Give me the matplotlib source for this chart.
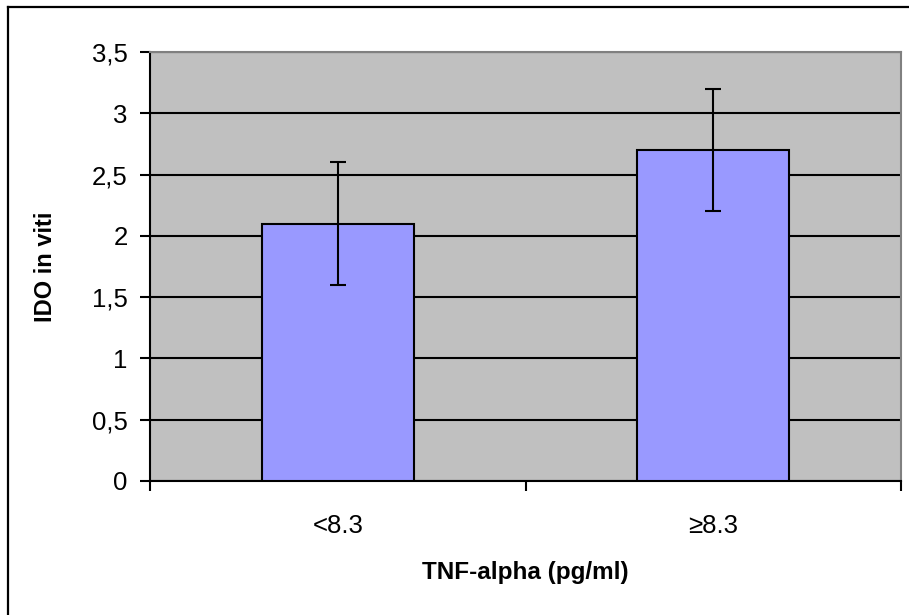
import matplotlib
matplotlib.use("Agg")
import matplotlib.pyplot as plt
from matplotlib.lines import Line2D
from matplotlib.ticker import FixedLocator, FuncFormatter

plt.rcParams['font.family'] = ['Liberation Sans', 'DejaVu Sans']

categories = ["<8.3", "\u22658.3"]
means = [2.1, 2.7]
errors = [0.5, 0.5]
yticks = [0, 0.5, 1, 1.5, 2, 2.5, 3, 3.5]

W, H = 909, 615
fig = plt.figure(figsize=(W / 100, H / 100), dpi=100)
ax = fig.add_axes([150 / W, (H - 481) / H, (901 - 150) / W, (481 - 52) / H])
ax.set_facecolor('#C0C0C0')

x = list(range(len(categories)))
ax.bar(x, means, width=0.405, color='#9999FF', edgecolor='black', linewidth=1.5, zorder=3)
ax.errorbar(x, means, yerr=errors, fmt='none', ecolor='black', elinewidth=1.5,
            capsize=6, capthick=1.5, zorder=4)

ax.set_xlim(-0.5, len(categories) - 0.5)
ax.set_ylim(0, 3.5)
ax.set_yticks(yticks)
ax.yaxis.set_major_formatter(FuncFormatter(lambda v, p: (f"{v:g}").replace('.', ',')))
ax.grid(axis='y', color='black', linewidth=1.5, zorder=1)
ax.set_axisbelow(True)

ax.set_xticks(x)
ax.set_xticklabels(categories)
ax.xaxis.set_minor_locator(FixedLocator([-0.5 + i for i in range(len(categories) + 1)]))
ax.tick_params(axis='x', which='major', length=0, pad=24, labelsize=18.5)
ax.tick_params(axis='x', which='minor', length=7, width=1.5, direction='out')
ax.tick_params(axis='y', which='major', length=7, width=1.5, direction='out', pad=9, labelsize=18.5)

for s in ['left', 'bottom']:
    ax.spines[s].set_color('black')
    ax.spines[s].set_linewidth(1.5)
for s in ['top', 'right']:
    ax.spines[s].set_color('#808080')
    ax.spines[s].set_linewidth(1.5)

fig.text(525 / W, 1 - 572 / H, "TNF-alpha (pg/ml)", ha='center', va='center',
         fontsize=17.5, fontweight='bold')
fig.text(45 / W, 1 - 267 / H, "IDO in viti", ha='center', va='center',
         rotation=90, fontsize=17, fontweight='bold')

# outer chart border
fig.add_artist(Line2D([8 / W, 8 / W], [0, 1 - 7 / H], color='black', linewidth=1.6,
                      transform=fig.transFigure))
fig.add_artist(Line2D([8 / W, 1], [1 - 7 / H, 1 - 7 / H], color='black', linewidth=1.6,
                      transform=fig.transFigure))

fig.savefig("out.png", dpi=100)
